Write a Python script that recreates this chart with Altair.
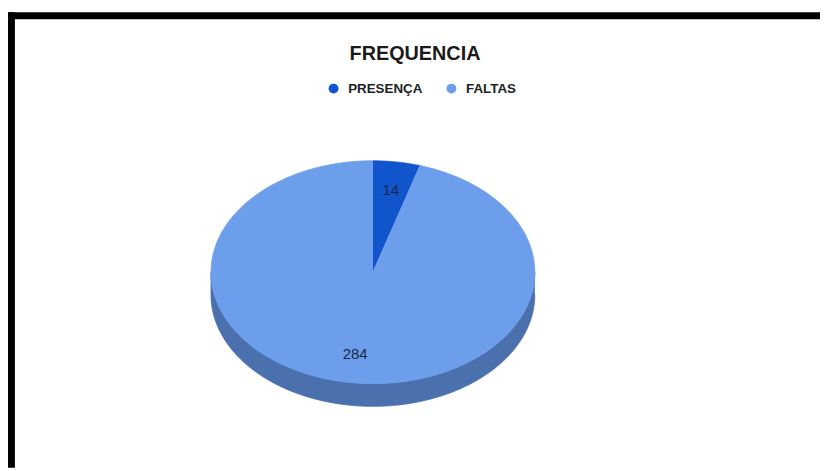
import altair as alt
import pandas as pd

# ---- data ----
categories = ["PRESENÇA", "FALTAS"]
values = [14, 284]
colors = ["#1155cc", "#6d9eeb"]
side_color = "#4a70ad"
title_text = "FREQUENCIA"

# ---- layout (pixels in plot area) ----
W, H = 820, 463
CX, CY, RX, RY, DEPTH = 368.5, 264.5, 163.5, 112.5, 23
LF = 0.745
N = 180

df = pd.DataFrame({"cat": categories, "val": values, "k": list(range(len(categories)))})
dummy = pd.DataFrame({"v": [0]})

xs = alt.Scale(domain=[0, W], nice=False, zero=False)
ys = alt.Scale(domain=[0, H], nice=False, zero=False, reverse=True)
fill_scale = alt.Scale(domain=categories, range=colors)

base = (
    alt.Chart(df)
    .transform_window(cum="sum(val)", sort=[alt.SortField("k")], frame=[None, 0])
    .transform_joinaggregate(total="sum(val)")
    .transform_calculate(a0="2*PI*(datum.cum-datum.val)/datum.total")
    .transform_calculate(a1="2*PI*datum.cum/datum.total")
)

# 3D side (front half only) as a closed polygon: top edge forward, bottom edge back
side = (
    base
    .transform_calculate(b0="max(datum.a0, PI/2)")
    .transform_calculate(b1="min(datum.a1, 3*PI/2)")
    .transform_filter("datum.b1 > datum.b0")
    .transform_calculate(seq=f"sequence(0, {2 * N + 2})")
    .transform_flatten(["seq"], as_=["i"])
    .transform_calculate(j=f"datum.i <= {N} ? datum.i : {2 * N + 1} - datum.i")
    .transform_calculate(ang=f"datum.b0 + (datum.b1 - datum.b0) * datum.j / {N}")
    .transform_calculate(px=f"{CX} + {RX} * sin(datum.ang)")
    .transform_calculate(
        py=f"{CY} - {RY} * cos(datum.ang) + (datum.i <= {N} ? 0 : {DEPTH})"
    )
    .mark_line(strokeWidth=0.8, color=side_color, fill=side_color)
    .encode(
        x=alt.X("px:Q", scale=xs, axis=None),
        y=alt.Y("py:Q", scale=ys, axis=None, stack=None),
        detail="cat:N",
        order=alt.Order("i:Q"),
    )
)

# top face slices as filled polygons
slices = (
    base
    .transform_calculate(seq=f"sequence(0, {N + 2})")
    .transform_flatten(["seq"], as_=["i"])
    .transform_calculate(ang=f"datum.a0 + (datum.a1 - datum.a0) * (datum.i - 1) / {N}")
    .transform_calculate(px=f"datum.i == 0 ? {CX} : {CX} + {RX} * sin(datum.ang)")
    .transform_calculate(py=f"datum.i == 0 ? {CY} : {CY} - {RY} * cos(datum.ang)")
    .mark_line(strokeWidth=0.8)
    .encode(
        x=alt.X("px:Q", scale=xs, axis=None),
        y=alt.Y("py:Q", scale=ys, axis=None, stack=None),
        order=alt.Order("i:Q"),
        fill=alt.Fill(
            "cat:N",
            scale=fill_scale,
            legend=alt.Legend(
                title=None,
                orient="none",
                legendX=322,
                legendY=72,
                direction="horizontal",
                symbolType="circle",
                symbolSize=100,
                symbolStrokeWidth=0,
                labelFont="Liberation Sans",
                labelFontSize=13.5,
                labelFontWeight="bold",
                labelColor="#222222",
                labelOffset=8,
                columnPadding=22,
                padding=0,
            ),
        ),
        stroke=alt.Stroke("cat:N", scale=fill_scale, legend=None),
    )
)

labels = (
    base
    .transform_calculate(mid="(datum.a0 + datum.a1) / 2")
    .transform_calculate(lx=f"{CX} + {LF * RX} * sin(datum.mid)")
    .transform_calculate(ly=f"{CY} - {LF * RY} * cos(datum.mid)")
    .mark_text(font="Liberation Sans", fontSize=15, color="#1a2744")
    .encode(
        x=alt.X("lx:Q", scale=xs, axis=None),
        y=alt.Y("ly:Q", scale=ys, axis=None),
        text="val:Q",
    )
)

left_border = alt.Chart(dummy).mark_rule(color="black", strokeWidth=7).encode(
    x=alt.value(3.5), y=alt.value(2), y2=alt.value(462)
)
top_border = alt.Chart(dummy).mark_rule(color="black", strokeWidth=7).encode(
    x=alt.value(0), x2=alt.value(W), y=alt.value(5.5)
)

chart = (
    alt.layer(side, slices, labels, left_border, top_border)
    .properties(
        width=W,
        height=H,
        padding=0,
        autosize="none",
        background="white",
        title=alt.TitleParams(
            text=title_text,
            font="Liberation Sans",
            fontSize=20,
            fontWeight="bold",
            color="#1a1a1a",
            anchor="middle",
            frame="group",
            dx=1,
            offset=-56,
        ),
    )
    .configure_view(strokeWidth=0)
)

chart.save("out.html", embed_options={"renderer": "svg", "actions": False})
